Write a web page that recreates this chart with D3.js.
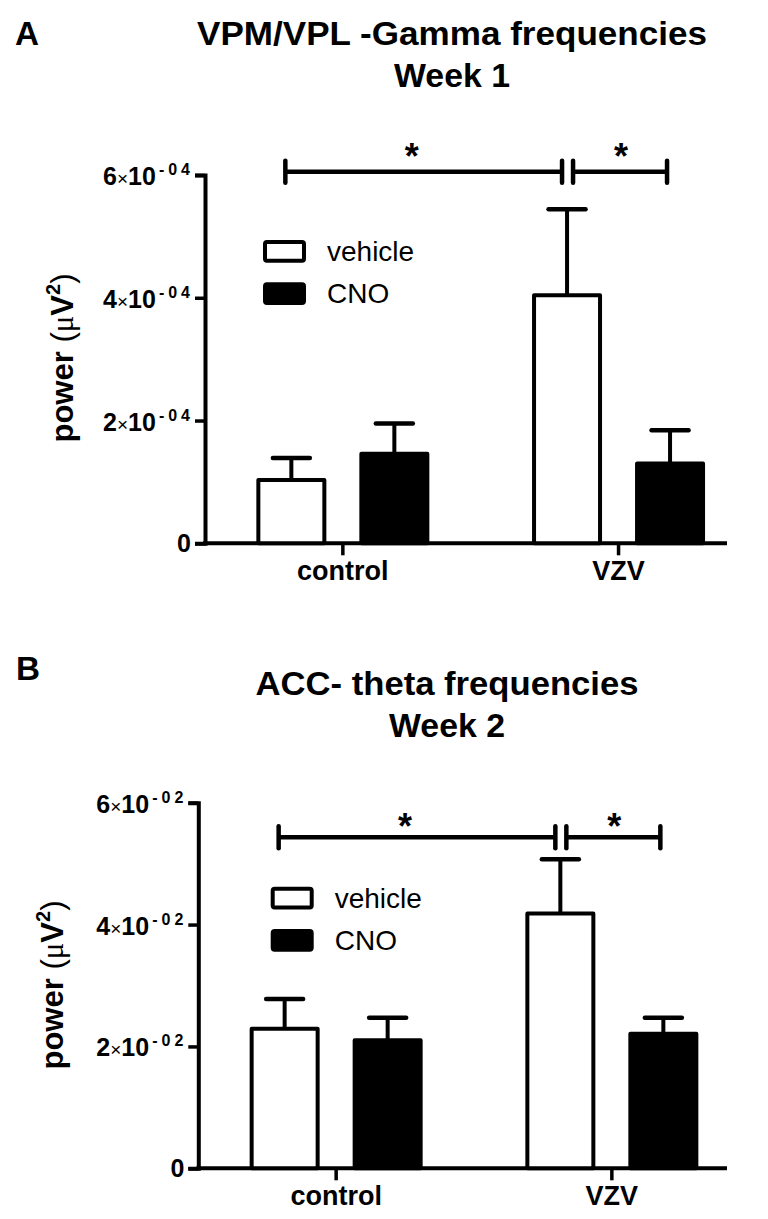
<!DOCTYPE html>
<html><head><meta charset="utf-8">
<script src="https://cdn.jsdelivr.net/npm/d3@7"></script>
<style>body{margin:0;background:#fff}</style>
</head><body>
<svg id="c" width="768" height="1219" xmlns="http://www.w3.org/2000/svg"></svg>
<script>
// ---------- data ----------
const categories = ["control", "VZV"];
const seriesNames = ["vehicle", "CNO"];

const titleA = ["VPM/VPL -Gamma frequencies", "Week 1"];
const titleB = ["ACC- theta frequencies", "Week 2"];

const vehicleA = [1.03e-4, 4.04e-4];
const vehicleErrA = [0.36e-4, 1.40e-4];
const cnoA = [1.46e-4, 1.30e-4];
const cnoErrA = [0.49e-4, 0.54e-4];

const vehicleB = [2.29e-2, 4.18e-2];
const vehicleErrB = [0.49e-2, 0.89e-2];
const cnoB = [2.10e-2, 2.21e-2];
const cnoErrB = [0.37e-2, 0.26e-2];

const yTicksA = [0, 2e-4, 4e-4, 6e-4];
const yTickMantissaA = ["0", "2", "4", "6"];
const yTickExpA = "-04";
const yTicksB = [0, 2e-2, 4e-2, 6e-2];
const yTickMantissaB = ["0", "2", "4", "6"];
const yTickExpB = "-02";

const sigPairs = [
  { from: ["control", "vehicle"], to: ["VZV", "vehicle"], label: "*" },
  { from: ["VZV", "vehicle"], to: ["VZV", "CNO"], label: "*" }
];

const yLabel = "power";

// ---------- layout ----------
const FONT = "'Liberation Sans', Arial, Helvetica, sans-serif";
const svg = d3.select("#c");

function panel(cfg) {
  const g = svg.append("g");
  const step = 275.7;
  const x = d3.scaleBand().domain(categories).range([cfg.axisX, cfg.axisX + 2 * step]);
  const xs = d3.scalePoint().domain(seriesNames).range([step / 2 - 51.5, step / 2 + 51.5]);
  const y = d3.scaleLinear().domain([0, cfg.yMax]).range([cfg.y0, cfg.yTop]);
  const cx = (cat, ser) => x(cat) + xs(ser);

  // panel letter
  g.append("text").attr("x", cfg.letterX).attr("y", cfg.letterY)
    .attr("font-family", FONT).attr("font-weight", "bold").attr("font-size", 34)
    .attr("textLength", 24).attr("lengthAdjust", "spacingAndGlyphs")
    .text(cfg.letter);

  // titles
  cfg.titles.forEach((t, i) => {
    g.append("text").attr("x", cfg.titleCx).attr("y", cfg.titleYs[i])
      .attr("text-anchor", "middle").attr("font-family", FONT)
      .attr("font-weight", "bold").attr("font-size", 33)
      .attr("textLength", cfg.titleLens[i]).attr("lengthAdjust", "spacingAndGlyphs")
      .text(t);
  });

  // y axis
  const yAxis = d3.axisLeft(y).tickValues(cfg.ticks).tickSizeOuter(0).tickSize(10).tickFormat("");
  const ya = g.append("g").attr("transform", `translate(${cfg.axisX},0)`).call(yAxis);
  ya.select(".domain").attr("stroke", "#000").attr("stroke-width", 4);
  ya.selectAll(".tick line").attr("stroke", "#000").attr("stroke-width", 3.5);

  // y tick labels
  cfg.ticks.forEach((v, i) => {
    const ty = y(v);
    if (v === 0) {
      g.append("text").attr("x", cfg.axisX - 14).attr("y", ty + 9)
        .attr("text-anchor", "end").attr("font-family", FONT)
        .attr("font-weight", "bold").attr("font-size", 25).text(cfg.mantissa[i]);
    } else {
      const t = g.append("text").attr("x", cfg.axisX - 11).attr("y", ty + 10)
        .attr("text-anchor", "end").attr("font-family", FONT).attr("font-size", 25);
      t.append("tspan").attr("font-weight", "bold").text(cfg.mantissa[i]);
      t.append("tspan").attr("font-size", 19).text("\u00d7");
      t.append("tspan").attr("font-weight", "bold").text("10");
      t.append("tspan").attr("font-weight", "bold").attr("font-size", 16)
        .attr("dy", -10).attr("dx", 3).attr("letter-spacing", 4).text(cfg.exp);
    }
  });

  // y label
  const yl = g.append("text")
    .attr("transform", `translate(${cfg.ylabelX},${cfg.ylabelCy}) rotate(-90)`)
    .attr("text-anchor", "middle").attr("font-family", FONT).attr("font-size", 31);
  yl.append("tspan").attr("font-weight", "bold").text(yLabel + " ");
  yl.append("tspan").text("(");
  yl.append("tspan").attr("font-family", "'Liberation Serif', serif").text("\u03bc");
  yl.append("tspan").attr("font-weight", "bold").text("V");
  yl.append("tspan").attr("font-weight", "bold").attr("font-size", 20).attr("dy", -13).text("2");
  yl.append("tspan").attr("dy", 13).text(")");

  // x axis
  g.append("line").attr("x1", cfg.axisX - 2).attr("x2", cfg.xRight)
    .attr("y1", cfg.y0).attr("y2", cfg.y0).attr("stroke", "#000").attr("stroke-width", 4);
  const xAxis = d3.axisBottom(x).tickSize(12).tickSizeOuter(0);
  const xa = g.append("g").attr("transform", `translate(0,${cfg.y0})`).call(xAxis);
  xa.select(".domain").remove();
  xa.selectAll(".tick line").attr("stroke", "#000").attr("stroke-width", 3.5);
  xa.selectAll(".tick text").attr("font-family", FONT).attr("font-weight", "bold")
    .attr("font-size", 27).attr("fill", "#000").attr("dy", 0).attr("y", 37);

  // bars
  const rows = [];
  categories.forEach((c, i) => {
    rows.push({ cat: c, ser: "vehicle", v: cfg.vehicle[i], e: cfg.vehicleErr[i] });
    rows.push({ cat: c, ser: "CNO", v: cfg.cno[i], e: cfg.cnoErr[i] });
  });
  const bw = 66;
  // error bars
  rows.forEach(r => {
    const c = cx(r.cat, r.ser);
    g.append("line").attr("x1", c).attr("x2", c).attr("y1", y(r.v)).attr("y2", y(r.v + r.e))
      .attr("stroke", "#000").attr("stroke-width", 4);
    g.append("line").attr("x1", c - 18.5).attr("x2", c + 18.5).attr("y1", y(r.v + r.e)).attr("y2", y(r.v + r.e))
      .attr("stroke", "#000").attr("stroke-width", 4.5).attr("stroke-linecap", "round");
  });
  g.selectAll("rect.bar").data(rows).enter().append("rect").attr("class", "bar")
    .attr("x", d => cx(d.cat, d.ser) - bw / 2).attr("width", bw)
    .attr("y", d => y(d.v)).attr("height", d => cfg.y0 - y(d.v))
    .attr("fill", d => d.ser === "vehicle" ? "#fff" : "#000")
    .attr("stroke", "#000").attr("stroke-width", 4).attr("stroke-linejoin", "round");

  // legend
  seriesNames.forEach((s, i) => {
    const ly = cfg.legendY + i * 42.3;
    g.append("rect").attr("x", cfg.legendX + 2).attr("y", ly + 2).attr("width", 39).attr("height", 18.7)
      .attr("rx", 2).attr("fill", s === "vehicle" ? "#fff" : "#000")
      .attr("stroke", "#000").attr("stroke-width", 4);
    g.append("text").attr("x", cfg.legendX + 64).attr("y", ly + 21)
      .attr("font-family", FONT).attr("font-size", 28).text(s);
  });

  // significance brackets
  const offs = [[-6, -5], [6, -3]];
  sigPairs.forEach((p, i) => {
    const x1 = cx(p.from[0], p.from[1]) + offs[i][0];
    const x2 = cx(p.to[0], p.to[1]) + offs[i][1];
    const by = cfg.bracketY;
    g.append("line").attr("x1", x1).attr("x2", x2).attr("y1", by).attr("y2", by)
      .attr("stroke", "#000").attr("stroke-width", 4.5);
    [x1, x2].forEach(xx => g.append("line").attr("x1", xx).attr("x2", xx)
      .attr("y1", by - 11).attr("y2", by + 11).attr("stroke", "#000")
      .attr("stroke-width", 4.5).attr("stroke-linecap", "round"));
    g.append("text").attr("x", (x1 + x2) / 2 + (i === 0 ? -12 : 1)).attr("y", by - cfg.starGap + 21)
      .attr("text-anchor", "middle").attr("font-family", FONT).attr("font-weight", "bold")
      .attr("font-size", 36).text(p.label);
  });
}

panel({
  letter: "A", letterX: 15, letterY: 45,
  titles: titleA, titleCx: 452, titleYs: [45, 87], titleLens: [510, 116],
  axisX: 205, y0: 543.3, yTop: 175, yMax: 6e-4, xRight: 727,
  ticks: yTicksA, mantissa: yTickMantissaA, exp: yTickExpA,
  ylabelX: 73, ylabelCy: 358,
  vehicle: vehicleA, vehicleErr: vehicleErrA, cno: cnoA, cnoErr: cnoErrA,
  legendX: 263, legendY: 240,
  bracketY: 171.7, starGap: 24
});

panel({
  letter: "B", letterX: 16, letterY: 680,
  titles: titleB, titleCx: 447, titleYs: [695, 737], titleLens: [383, 116],
  axisX: 198.3, y0: 1168.3, yTop: 802.7, yMax: 6e-2, xRight: 727,
  ticks: yTicksB, mantissa: yTickMantissaB, exp: yTickExpB,
  ylabelX: 63, ylabelCy: 985,
  vehicle: vehicleB, vehicleErr: vehicleErrB, cno: cnoB, cnoErr: cnoErrB,
  legendX: 270.7, legendY: 886.7,
  bracketY: 837.3, starGap: 19
});
</script>
</body></html>
